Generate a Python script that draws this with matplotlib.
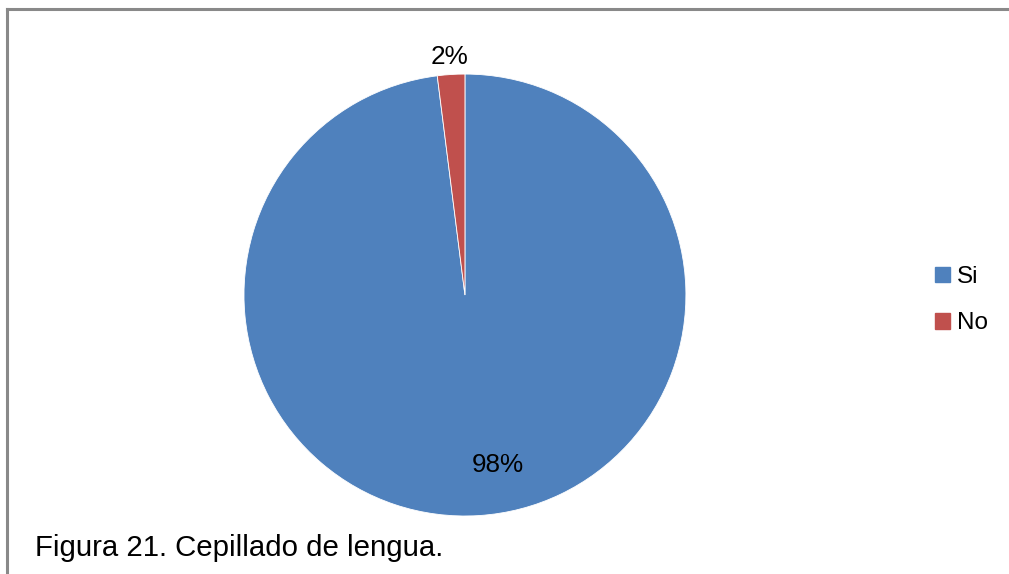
import matplotlib.pyplot as plt
from matplotlib.patches import Patch
from matplotlib.lines import Line2D

labels = ['Si', 'No']
values = [98, 2]
colors = ['#4F81BD', '#C0504D']
caption = 'Figura 21. Cepillado de lengua.'

plt.rcParams['font.family'] = ['Liberation Sans', 'DejaVu Sans']

fig = plt.figure(figsize=(10.09, 5.74), dpi=100)

# gray frame, only top and left edges show
fig.add_artist(Line2D([0.0065, 1.0], [0.9835, 0.9835], color='#898989', lw=2.2,
                      transform=fig.transFigure))
fig.add_artist(Line2D([0.0065, 0.0065], [0.0, 0.9835], color='#898989', lw=2.2,
                      transform=fig.transFigure))

ax = fig.add_axes([0.2418, 0.101, 0.438, 0.770])
wedges, _ = ax.pie(values, colors=colors, startangle=90, counterclock=False,
                   wedgeprops=dict(edgecolor='white', linewidth=0.6))
ax.set_xlim(-1, 1)
ax.set_ylim(-1, 1)
ax.set_aspect('equal')

pct_pos = [(0.149, -0.77), (-0.068, 1.077)]
for v, (x, y) in zip(values, pct_pos):
    ax.text(x, y, f'{v}%', ha='center', va='center', fontsize=18.8)

fig.legend(handles=[Patch(color=c, label=l) for c, l in zip(colors, labels)],
           loc='center left', bbox_to_anchor=(0.905, 0.477), frameon=False,
           fontsize=17.5, handlelength=0.6, handleheight=0.6, handletextpad=0.3,
           labelspacing=1.0)

fig.text(0.035, 0.045, caption, fontsize=21.2, ha='left', va='center')

fig.savefig('out.png', dpi=100)
